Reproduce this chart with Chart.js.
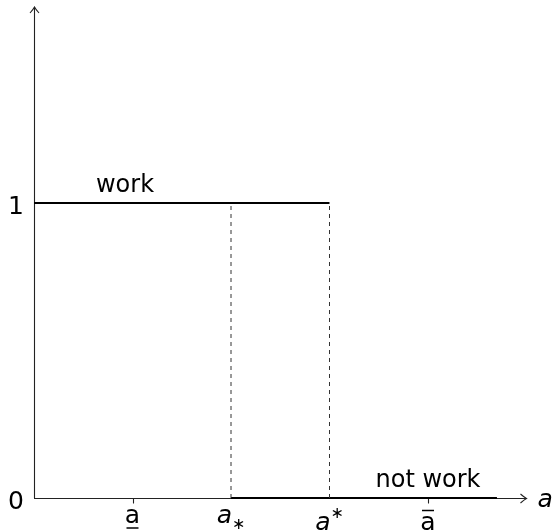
<!DOCTYPE html>
<html>
<head>
<meta charset="utf-8">
<script src="https://cdn.jsdelivr.net/npm/chart.js@4.4.1/dist/chart.umd.min.js"></script>
<style>
  html, body { margin: 0; padding: 0; background: #fff; }
  #wrap { width: 553px; height: 531px; }
</style>
</head>
<body>
<div id="wrap"><canvas id="chart" width="553" height="531"></canvas></div>
<script>
// thresholds along the a axis
const xTickValues = [1, 2, 3, 4];
const xTickMarks = ['under', 'sub', 'sup', 'bar'];  // a underline, a_*, a^*, a bar
const yTickValues = [0, 1];
const yTickLabels = ['0', '1'];

// the step function
const workX = [0, 3];
const workY = [1, 1];
const notWorkX = [2, 4.7];
const notWorkY = [0, 0];
const dashX = [2, 3];

// region labels
const regionLabels = ['work', 'not work'];
const regionLabelX = [0.924, 4.0];
const regionLabelY = [1, 0];

// axis extent
const xRange = [0, 5];
const yRange = [0, 1.664];
const axisName = 'a';

const FONT = '"DejaVu Sans", sans-serif';

function pts(xs, ys) {
  return xs.map((x, i) => ({ x: x, y: ys[i] }));
}

const datasets = [];
dashX.forEach(d => {
  datasets.push({
    data: pts([d, d], [0, 1]),
    borderColor: '#333',
    borderWidth: 1,
    borderDash: [4, 4],
    pointRadius: 0,
    showLine: true
  });
});
datasets.push({
  data: pts(workX, workY),
  borderColor: '#000',
  borderWidth: 2,
  pointRadius: 0,
  showLine: true
});
datasets.push({
  data: pts(notWorkX, notWorkY),
  borderColor: '#000',
  borderWidth: 2,
  pointRadius: 0,
  showLine: true
});

// draws the arrowed axes, ticks and all the text
const axesPlugin = {
  id: 'axesPlugin',
  beforeDatasetsDraw(chart) {
    const ctx = chart.ctx;
    const xs = chart.scales.x, ys = chart.scales.y;
    const x0 = xs.getPixelForValue(xRange[0]);
    const x1 = xs.getPixelForValue(xRange[1]);
    const y0 = ys.getPixelForValue(yRange[0]);
    const y1 = ys.getPixelForValue(yRange[1]);
    ctx.save();
    ctx.strokeStyle = '#222';
    ctx.lineWidth = 1.1;
    ctx.beginPath();
    ctx.moveTo(x0, Math.round(y0) + 0.5);
    ctx.lineTo(x1, Math.round(y0) + 0.5);
    ctx.moveTo(Math.round(x0) + 0.5, y0);
    ctx.lineTo(Math.round(x0) + 0.5, y1);
    ctx.stroke();
    // arrow heads
    const ay = Math.round(y0) + 0.5, ax = Math.round(x0) + 0.5;
    ctx.beginPath();
    ctx.moveTo(x1 - 6, ay - 4.5);
    ctx.quadraticCurveTo(x1 - 2, ay - 1, x1, ay);
    ctx.quadraticCurveTo(x1 - 2, ay + 1, x1 - 6, ay + 4.5);
    ctx.moveTo(ax - 4.5, y1 + 6);
    ctx.quadraticCurveTo(ax - 1, y1 + 2, ax, y1);
    ctx.quadraticCurveTo(ax + 1, y1 + 2, ax + 4.5, y1 + 6);
    ctx.stroke();
    // small ticks where no dashed line meets the axis
    ctx.beginPath();
    xTickValues.forEach(v => {
      if (dashX.includes(v)) return;
      const px = Math.round(xs.getPixelForValue(v)) + 0.5;
      ctx.moveTo(px, ay);
      ctx.lineTo(px, ay + 5);
    });
    ctx.stroke();
    ctx.restore();
  },
  afterDraw(chart) {
    const ctx = chart.ctx;
    const xs = chart.scales.x, ys = chart.scales.y;
    const x0 = xs.getPixelForValue(xRange[0]);
    const x1 = xs.getPixelForValue(xRange[1]);
    const y0 = ys.getPixelForValue(yRange[0]);
    ctx.save();
    ctx.fillStyle = '#000';
    ctx.strokeStyle = '#000';
    ctx.textBaseline = 'alphabetic';

    // y tick labels
    ctx.font = '25px ' + FONT;
    ctx.textAlign = 'right';
    yTickValues.forEach((v, i) => {
      ctx.fillText(yTickLabels[i], x0 - 10, ys.getPixelForValue(v) + 11);
    });

    // x tick labels
    const upright = '25px ' + FONT;
    const italic = 'italic 25px ' + FONT;
    const small = '16px ' + FONT;
    xTickValues.forEach((v, i) => {
      const px = xs.getPixelForValue(v);
      const mark = xTickMarks[i];
      if (mark === 'under' || mark === 'bar') {
        ctx.font = upright;
        ctx.textAlign = 'center';
        const base = mark === 'under' ? y0 + 25 : y0 + 32;
        ctx.fillText('a', px, base);
        ctx.lineWidth = 1.5;
        ctx.beginPath();
        const ly = mark === 'under' ? y0 + 30 : y0 + 12.5;
        ctx.moveTo(px - 6, ly);
        ctx.lineTo(px + 6, ly);
        ctx.stroke();
      } else {
        ctx.font = italic;
        const wa = ctx.measureText('a').width;
        ctx.font = small;
        const ws = ctx.measureText('\u2217').width;
        const left = px - (wa + ws) / 2;
        const base = mark === 'sub' ? y0 + 25 : y0 + 32;
        ctx.textAlign = 'left';
        ctx.font = italic;
        ctx.fillText('a', left, base);
        ctx.font = small;
        ctx.fillText('\u2217', left + wa, mark === 'sub' ? y0 + 31 : y0 + 20);
      }
    });

    // axis name
    ctx.font = italic;
    ctx.textAlign = 'left';
    ctx.fillText(axisName, x1 + 11, y0 + 9);

    // region labels
    ctx.font = '24px ' + FONT;
    ctx.textAlign = 'center';
    regionLabels.forEach((t, i) => {
      ctx.fillText(t, xs.getPixelForValue(regionLabelX[i]), ys.getPixelForValue(regionLabelY[i]) - 11);
    });
    ctx.restore();
  }
};

new Chart(document.getElementById('chart'), {
  type: 'scatter',
  data: { datasets: datasets },
  options: {
    responsive: false,
    animation: false,
    layout: { padding: { left: 34, right: 26.5, top: 7, bottom: 33 } },
    plugins: { legend: { display: false }, tooltip: { enabled: false } },
    elements: { line: { tension: 0 } },
    datasets: { scatter: { clip: false } },
    scales: {
      x: { type: 'linear', min: xRange[0], max: xRange[1], display: false },
      y: { type: 'linear', min: yRange[0], max: yRange[1], display: false }
    }
  },
  plugins: [axesPlugin]
});
</script>
</body>
</html>
